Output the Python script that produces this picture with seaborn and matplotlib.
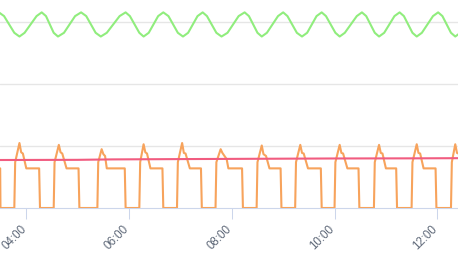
import matplotlib
matplotlib.use("Agg")
import matplotlib.pyplot as plt
import matplotlib.dates as mdates
import matplotlib.transforms as mtransforms
import seaborn as sns
import pandas as pd

DAY = "2024-01-01 "

# Green series (upper wave)
green_times = [
    "03:22", "03:28", "03:34", "03:46", "03:52", "03:58", "04:12", "04:18", "04:23", "04:32",
    "04:37", "04:44", "04:57", "05:04", "05:10", "05:21", "05:27", "05:34", "05:49", "05:56",
    "06:01", "06:12", "06:17", "06:23", "06:34", "06:40", "06:46", "06:57", "07:03", "07:09",
    "07:20", "07:26", "07:31", "07:42", "07:48", "07:55", "08:08", "08:15", "08:20", "08:30",
    "08:35", "08:41", "08:54", "09:00", "09:05", "09:16", "09:22", "09:28", "09:39", "09:45",
    "09:50", "10:01", "10:06", "10:12", "10:26", "10:32", "10:37", "10:47", "10:52", "10:58",
    "11:10", "11:16", "11:21", "11:31", "11:36", "11:42", "11:55", "12:01", "12:06", "12:16",
    "12:21", "12:27", "12:39",
]
green_values = [
    31.0, 31.6, 31.0, 28.3, 27.7, 28.3, 31.0, 31.6, 31.0, 28.3,
    27.7, 28.3, 31.0, 31.6, 31.0, 28.3, 27.7, 28.3, 31.0, 31.6,
    31.0, 28.3, 27.7, 28.3, 31.0, 31.6, 31.0, 28.3, 27.7, 28.3,
    31.0, 31.6, 31.0, 28.3, 27.7, 28.3, 31.0, 31.6, 31.0, 28.3,
    27.7, 28.3, 31.0, 31.6, 31.0, 28.3, 27.7, 28.3, 31.0, 31.6,
    31.0, 28.3, 27.7, 28.3, 31.0, 31.6, 31.0, 28.3, 27.7, 28.3,
    31.0, 31.6, 31.0, 28.3, 27.7, 28.3, 31.0, 31.6, 31.0, 28.3,
    27.7, 28.3, 31.0,
]

# Orange series (pulses)
orange_times = [
    "03:20", "03:29:30", "03:29:50", "03:46", "03:47", "03:52", "03:54", "03:56", "04:00", "04:15",
    "04:16", "04:32", "04:33", "04:38", "04:40", "04:42", "04:47", "05:01", "05:02", "05:23",
    "05:24", "05:28", "05:30", "05:32", "05:34", "05:55", "05:56", "06:12", "06:13", "06:17",
    "06:19", "06:21", "06:25", "06:39", "06:40", "06:56", "06:57", "07:02", "07:04", "07:06",
    "07:11", "07:24", "07:25", "07:41", "07:42", "07:47", "07:49", "07:54", "07:56", "08:12",
    "08:13", "08:29", "08:30", "08:35", "08:37", "08:40", "08:44", "08:57", "08:58", "09:14",
    "09:15", "09:20", "09:22", "09:24", "09:29", "09:44", "09:45", "10:00", "10:01", "10:06",
    "10:08", "10:10", "10:15", "10:28", "10:29", "10:46", "10:47", "10:52", "10:54", "10:56",
    "11:00", "11:12", "11:13", "11:30", "11:31", "11:36", "11:38", "11:40", "11:44", "11:58",
    "11:59", "12:16", "12:17", "12:21", "12:23", "12:25", "12:29",
]
orange_values = [
    6.4, 6.4, 0.0, 0.0, 7.4, 10.5, 9.0, 8.8, 6.4, 6.4,
    0.0, 0.0, 7.4, 10.2, 9.0, 8.8, 6.4, 6.4, 0.0, 0.0,
    7.4, 9.5, 8.7, 8.4, 6.4, 6.4, 0.0, 0.0, 7.4, 10.3,
    9.0, 8.8, 6.4, 6.4, 0.0, 0.0, 7.4, 10.5, 8.9, 8.8,
    6.4, 6.4, 0.0, 0.0, 7.4, 9.5, 8.9, 7.9, 6.4, 6.4,
    0.0, 0.0, 7.4, 10.1, 8.7, 8.4, 6.4, 6.4, 0.0, 0.0,
    7.4, 10.2, 8.9, 8.8, 6.4, 6.4, 0.0, 0.0, 7.4, 10.2,
    8.9, 8.8, 6.4, 6.4, 0.0, 0.0, 7.4, 10.2, 8.9, 8.8,
    6.4, 6.4, 0.0, 0.0, 7.4, 10.3, 8.9, 8.8, 6.4, 6.4,
    0.0, 0.0, 7.4, 10.3, 8.9, 8.8, 6.4,
]

# Red series (nearly flat)
red_times = ["03:20", "05:00", "05:40", "07:00", "08:30", "10:00", "11:30", "12:30"]
red_values = [7.75, 7.78, 7.85, 7.9, 7.95, 8.0, 8.02, 8.05]

y_gridlines = [10, 20, 30]
y_max = 33.76
x_start = "03:29:17"
x_end = "12:24:12"

GREEN = "#90ed7d"
ORANGE = "#f7a35c"
RED = "#f15c80"
AXIS = "#ccd6eb"
GRID = "#e6e6e6"
LABEL = "#5e6878"

sns.set_style("white")
plt.rcParams['font.family'] = ['Liberation Sans', 'DejaVu Sans']


def to_dt(ts):
    return [pd.Timestamp(DAY + t) for t in ts]


fig = plt.figure(figsize=(4.58, 2.55), dpi=100)
ax = fig.add_axes([0, 46 / 255, 1, 209 / 255])

for times, vals, color in [(green_times, green_values, GREEN),
                           (orange_times, orange_values, ORANGE),
                           (red_times, red_values, RED)]:
    df = pd.DataFrame({"t": to_dt(times), "v": vals})
    sns.lineplot(data=df, x="t", y="v", color=color, linewidth=1.5,
                 ax=ax, sort=False, estimator=None, zorder=3)

ax.set_xlim(pd.Timestamp(DAY + x_start), pd.Timestamp(DAY + x_end))
ax.set_ylim(0, y_max)
ax.set_yticks(y_gridlines)
ax.yaxis.grid(True, color=GRID, linewidth=1.0)
ax.xaxis.grid(False)
ax.set_axisbelow(True)
ax.tick_params(axis='y', left=False, labelleft=False)

ax.xaxis.set_major_locator(mdates.HourLocator(byhour=range(0, 24, 2)))
ax.xaxis.set_major_formatter(mdates.DateFormatter('%H:%M'))
ax.tick_params(axis='x', bottom=True, length=8.0, width=0.75, color=AXIS,
               direction='out', pad=2.0, labelsize=8.3, labelcolor=LABEL)
offset = mtransforms.ScaledTranslation(2.5 / 100, 0, fig.dpi_scale_trans)
for lbl in ax.get_xticklabels():
    lbl.set_rotation(45)
    lbl.set_ha('right')
    lbl.set_va('top')
    lbl.set_transform(lbl.get_transform() + offset)

for side in ['top', 'left', 'right']:
    ax.spines[side].set_visible(False)
ax.spines['bottom'].set_color(AXIS)
ax.spines['bottom'].set_linewidth(0.8)
ax.set_xlabel('')
ax.set_ylabel('')
ax.patch.set_alpha(0)

fig.savefig("out.png", dpi=100)
